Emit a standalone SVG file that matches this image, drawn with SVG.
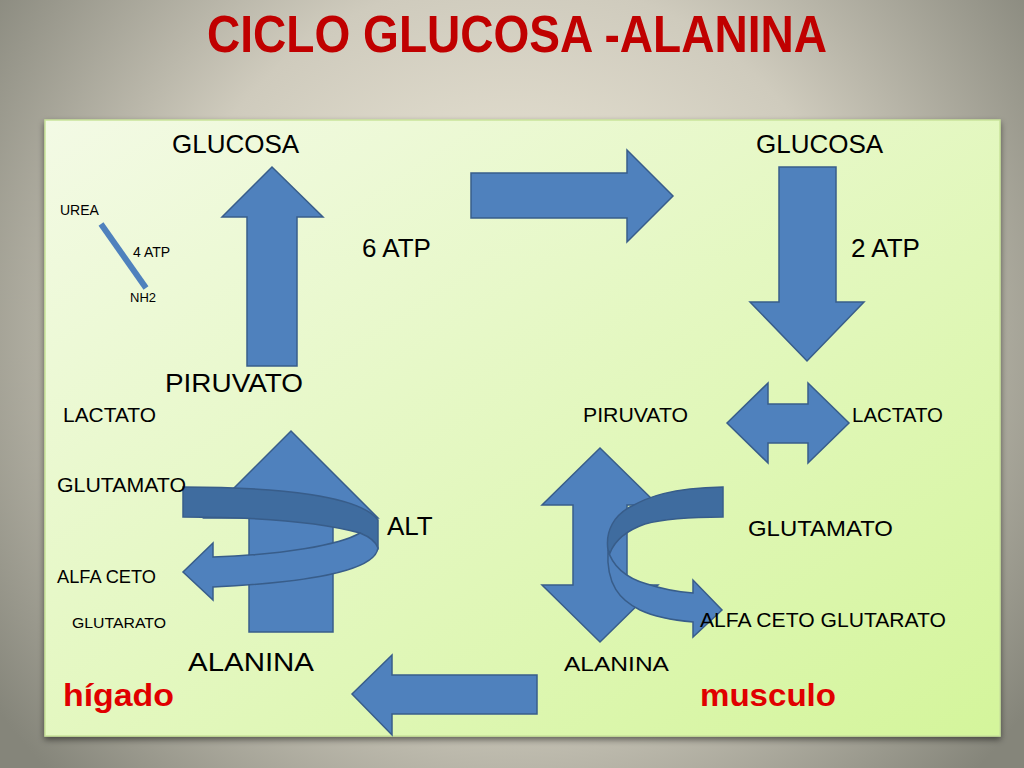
<svg xmlns="http://www.w3.org/2000/svg" width="1024" height="768" viewBox="0 0 1024 768">
<defs>
<radialGradient id="bg" gradientUnits="userSpaceOnUse" cx="512" cy="330" r="640">
<stop offset="0" stop-color="#f1ecdc"/>
<stop offset="0.55" stop-color="#cfcbbd"/>
<stop offset="1" stop-color="#85857a"/>
</radialGradient>
<linearGradient id="panel" x1="0" y1="0" x2="1" y2="1">
<stop offset="0" stop-color="#f3fae5"/>
<stop offset="1" stop-color="#d4f59b"/>
</linearGradient>
<filter id="sh" x="-5%" y="-5%" width="110%" height="110%">
<feGaussianBlur in="SourceAlpha" stdDeviation="3"/>
<feOffset dx="0" dy="3"/>
<feComponentTransfer><feFuncA type="linear" slope="0.5"/></feComponentTransfer>
<feMerge><feMergeNode/><feMergeNode in="SourceGraphic"/></feMerge>
</filter>
</defs>
<style>
.arr{fill:#4f81bd;stroke:#385d8a;stroke-width:1.5;stroke-linejoin:miter}
.dark{fill:#3f6c9f;stroke:#385d8a;stroke-width:1.5}
text{font-family:"Liberation Sans",Arial,sans-serif;fill:#000}
.big{font-size:26px}
.mid{font-size:20px}
.sm{font-size:14px}
.red{fill:#e00000;font-weight:bold;font-size:32px}
</style>
<rect width="1024" height="768" fill="url(#bg)"/>
<text x="517" y="52" text-anchor="middle" font-size="52" font-weight="bold" style="fill:#c00000" textLength="620" lengthAdjust="spacingAndGlyphs">CICLO GLUCOSA -ALANINA</text>
<rect x="45" y="120" width="955" height="616" fill="url(#panel)" stroke="#c9e39a" stroke-width="1.5" filter="url(#sh)"/>

<g id="connectors">
<path id="liver-up" class="arr" d="M247,366 L247,217 L222,217 L272,167 L323,217 L297,217 L297,366 Z"/>
<path id="top-right" class="arr" d="M471,173 L627,173 L627,150 L673,196 L627,242 L627,218 L471,218 Z"/>
<path id="down-right" class="arr" d="M779,167 L836,167 L836,302 L864,302 L807,361 L750,302 L779,302 Z"/>
<path id="pir-lac" class="arr" d="M727,423 L768,383 L768,404 L808,404 L808,383 L849,423 L808,463 L808,443 L768,443 L768,463 Z"/>
<path id="bottom-left" class="arr" d="M537,675 L392,675 L392,655 L352,694 L392,735 L392,714 L537,714 Z"/>
<path id="alt-up" class="arr" d="M249,632 L249,518 L204,518 L291,431 L378,518 L333,518 L333,632 Z"/>
<path id="musc-updown" class="arr" d="M600,448 L658,505 L627,505 L627,585 L658,585 L600,642 L542,585 L573,585 L573,505 L542,505 Z"/>
<path id="left-ribbon-back" class="dark" d="M183,487 C280,487 360,496 378,520 L378,548 C372,541 367,537 360,533 C320,522 260,517 183,517 Z"/>
<path id="left-ribbon-front" class="arr" d="M360,533 C370,537 376,542 378,548 C375,572 300,583 213,587 L213,600 L183,572 L213,543 L213,557 C280,555 340,545 360,533 Z"/>
<path id="right-ribbon-back" class="dark" d="M723,487 L723,517 C690,517 663,519 645,524 C628,530 615,540 610,553 L608,550 C605,530 615,515 630,507 C648,497 670,488 723,487 Z"/>
<path id="right-ribbon-front" class="arr" d="M608,550 C612,565 625,578 647,584 C665,590 680,592 693,593 L693,580 L722,610 L693,637 L693,622 C670,620 655,617 640,610 C620,600 606,585 608,550 Z"/>
<line id="urea-line" x1="101" y1="224" x2="146" y2="288" stroke="#4f81bd" stroke-width="6"/>
</g>

<g id="n-glucosa-l"><text class="big" x="172" y="153">GLUCOSA</text></g>
<g id="n-glucosa-r"><text class="big" x="756" y="153">GLUCOSA</text></g>
<g id="n-urea"><text class="sm" x="60" y="215">UREA</text></g>
<g id="n-4atp"><text class="sm" x="133" y="257">4 ATP</text></g>
<g id="n-nh2"><text font-size="13" x="130" y="302">NH2</text></g>
<g id="n-6atp"><text class="big" x="362" y="257">6 ATP</text></g>
<g id="n-2atp"><text class="big" x="851" y="257">2 ATP</text></g>
<g id="n-piruvato-l"><text class="big" x="165" y="392" textLength="138" lengthAdjust="spacingAndGlyphs">PIRUVATO</text></g>
<g id="n-lactato-l"><text class="mid" x="63" y="422" textLength="93" lengthAdjust="spacingAndGlyphs">LACTATO</text></g>
<g id="n-piruvato-r"><text class="mid" x="583" y="422" textLength="105" lengthAdjust="spacingAndGlyphs">PIRUVATO</text></g>
<g id="n-lactato-r"><text class="mid" x="852" y="422" textLength="91" lengthAdjust="spacingAndGlyphs">LACTATO</text></g>
<g id="n-glutamato-l"><text class="mid" x="57" y="492" textLength="129" lengthAdjust="spacingAndGlyphs">GLUTAMATO</text></g>
<g id="n-alt"><text class="big" x="387" y="535">ALT</text></g>
<g id="n-glutamato-r"><text font-size="22" x="748" y="536" textLength="145" lengthAdjust="spacingAndGlyphs">GLUTAMATO</text></g>
<g id="n-alfaceto-l"><text font-size="18" x="57" y="583" textLength="99" lengthAdjust="spacingAndGlyphs">ALFA CETO</text></g>
<g id="n-glutarato-l"><text font-size="15" x="72" y="628" textLength="94" lengthAdjust="spacingAndGlyphs">GLUTARATO</text></g>
<g id="n-akg-r"><text font-size="21" x="700" y="627" textLength="246" lengthAdjust="spacingAndGlyphs">ALFA CETO GLUTARATO</text></g>
<g id="n-alanina-l"><text class="big" x="188" y="671" textLength="126" lengthAdjust="spacingAndGlyphs">ALANINA</text></g>
<g id="n-alanina-r"><text font-size="21" x="564" y="671" textLength="105" lengthAdjust="spacingAndGlyphs">ALANINA</text></g>
<g id="n-higado"><text class="red" x="63" y="706" textLength="111" lengthAdjust="spacingAndGlyphs">hígado</text></g>
<g id="n-musculo"><text class="red" x="700" y="706" textLength="136" lengthAdjust="spacingAndGlyphs">musculo</text></g>
</svg>
